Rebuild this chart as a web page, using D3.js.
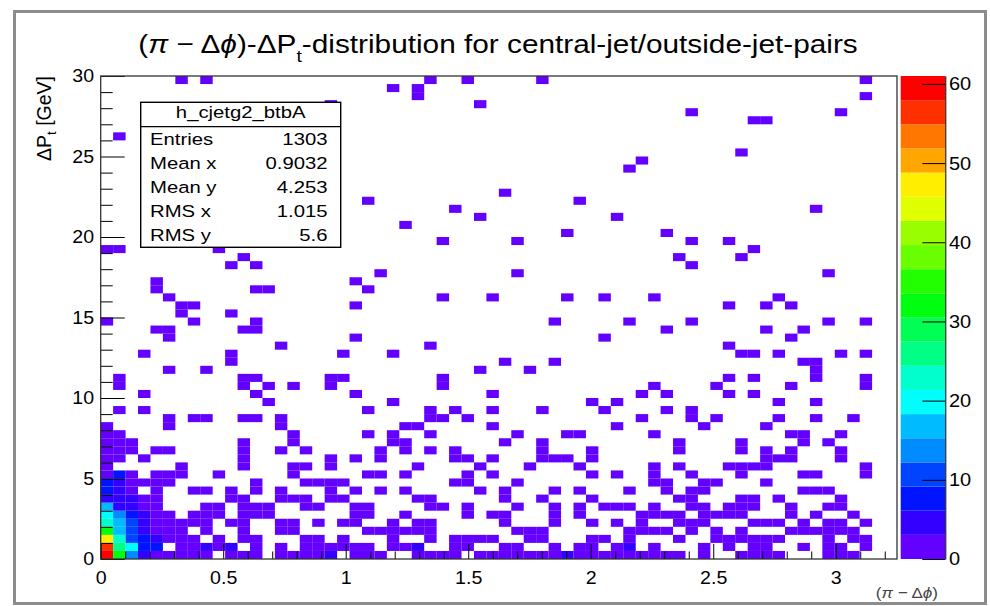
<!DOCTYPE html>
<html>
<head>
<meta charset="utf-8">
<title>(π − Δϕ)-ΔPt-distribution</title>
<script src="https://cdn.jsdelivr.net/npm/d3@7"></script>
<style>
  body { margin: 0; background: #fff; }
  svg { display: block; }
  text { font-family: "Liberation Sans", Arial, Helvetica, sans-serif; fill: #000; }
</style>
</head>
<body>
<svg id="chart" width="990" height="606"></svg>
<script>
// h_cjetg2_btbA : 64 bins in (pi - dphi) over [0, 3.25], 60 bins in dPt over [0, 30] GeV
const xRange = [0, 3.25], nBinsX = 64;
const yRange = [0, 30], nBinsY = 60;

// x bins with entries, one list per 0.5 GeV bin of dPt, bottom up
const filledBins = [
  [0,1,2,3,4,5,6,7,8,10,11,12,14,15,16,17,18,20,21,22,25,26,27,28,30,31,32,33,34,35,36,37,38,39,40,41,42,43,44,45,46,48,51,52,53,54,58,59,60],
  [0,1,2,3,4,6,7,8,9,10,12,14,16,17,18,19,20,21,23,24,25,28,29,32,33,36,38,39,41,42,44,48,50,52,53,56,58,59,61],
  [0,1,2,3,4,5,6,7,9,11,12,16,17,19,23,26,28,29,30,31,34,35,39,40,42,46,49,50,51,52,53,54,58,60,61],
  [0,1,2,3,4,5,6,8,11,14,15,21,22,23,24,25,26,33,34,35,42,43,44,45,47,49,51,55,56,57,58,59,60],
  [0,1,2,3,4,5,6,7,8,10,11,14,15,17,19,20,23,25,26,32,36,39,41,43,46,47,48,52,53,54,56,58,59,61],
  [0,1,2,3,4,5,7,8,9,11,12,13,20,21,24,29,31,32,36,38,43,44,45,46,48,49,50,51,55,57,60],
  [0,1,2,3,4,8,9,11,12,13,16,17,20,21,26,27,29,33,36,38,40,41,42,44,47,48,50,51,52,55,58,59],
  [0,1,2,3,4,10,11,14,15,16,18,19,25,26,32,35,39,46,47,51,52,54,59],
  [0,1,2,4,7,8,10,12,14,18,20,22,24,30,32,36,38,42,45,47,48,56,57,58],
  [0,1,2,3,4,5,12,16,17,18,19,28,29,33,44,45,48,49,53],
  [0,1,2,4,5,6,9,15,21,22,24,29,31,39,41,44,47,51,56,57,61],
  [0,6,11,15,16,18,25,30,34,38,44,46,50,51,52,53,61],
  [0,1,3,11,18,20,22,28,29,31,35,36,37,39,53,54,55,59],
  [0,1,2,4,5,11,14,16,22,24,26,28,35,39,46,51,53,55,59],
  [0,1,2,11,15,23,24,32,35,46,51,56,58],
  [0,1,15,21,23,26,33,37,38,44,55,56,59],
  [0,5,14,24,25,31,41,48,53],
  [5,7,8,11,12,14,26,27,29,43,47,49,54,57,60],
  [1,3,21,26,28,31,35,40,45,47],
  [13,23,39,41,54,57],
  [3,12,20,31,43,45,50,52],
  [1,11,13,15,18,27,44,49,55,61],
  [1,11,12,18,19,27,50,52,57,61],
  [5,8,30,34,57],
  [10,32,36,56,57],
  [3,10,19,23,51,52,54,59,61],
  [14,26,50],
  [5,20,40,55],
  [4,5,11,12,45,53,56],
  [0,7,12,36,42,47,58,61],
  [6,10],
  [6,7,20,50,53,55],
  [5,27,31,37,40,44,54],
  [4,12,13,21],
  [4,20],
  [22,33,58],
  [10,12,47],
  [11,46,51],
  [0,1,9,52],
  [27,33,47,50],
  [37,45],
  [24],
  [30,41],
  [28,57],
  [21,38],
  [32],
  [],
  [],
  [42],
  [43],
  [51],
  [],
  [1],
  [],
  [52,53],
  [47,59],
  [18,30],
  [25,61],
  [23,25],
  [6,8,26,29,35,61]
];

// bins holding more than one entry: [xBin, yBin, entries]
const heavyBins = [
  [0,0,61],[1,0,31],[2,0,14],[3,0,4],[18,0,5],[37,0,5],
  [0,1,55],[1,1,26],[2,1,19],[3,1,8],[4,1,7],[8,1,4],[10,1,6],[25,1,5],[42,1,4],
  [0,2,46],[1,2,22],[2,2,11],[3,2,8],[4,2,4],
  [0,3,33],[1,3,16],[2,3,10],[3,3,5],
  [0,4,23],[1,4,16],[2,4,10],[3,4,4],
  [0,5,20],[1,5,13],[2,5,8],[3,5,4],
  [0,6,16],[1,6,5],[2,6,4],
  [0,7,6],[1,7,5],[2,7,4],
  [0,8,8],[1,8,4],
  [0,9,7],[1,9,4],
  [1,10,7]
];

const statNames = ["Entries", "Mean x", "Mean y", "RMS x", "RMS y"];
const statValues = ["1303", "0.9032", "4.253", "1.015", "5.6"];
const xTicks = [0, 0.5, 1, 1.5, 2, 2.5, 3];
const yTicks = [0, 5, 10, 15, 20, 25, 30];
const zTicks = [0, 10, 20, 30, 40, 50, 60];
const zMax = 61, nContours = 20;

const sx = 1.18;     // stats box text is stretched sideways on the original canvas
const sxAxis = 1.06; // axis labels a little less
const svg = d3.select("#chart");

const x = d3.scaleLinear().domain(xRange).range([100.7, 897]);
const y = d3.scaleLinear().domain(yRange).range([559, 76]);
const z = d3.scaleLinear().domain([0, zMax]).range([559, 76]);

// ROOT 5 pretty palette (violet -> red), sampled for 20 contours
const palette = d3.range(nContours).map(k => {
  const p = Math.floor((k + 0.99) * 50 / nContours);
  return d3.hsl(280 - (p + 1) * 5.6, 1, 0.5).formatHex();
});
const color = d3.scaleQuantize().domain([0, zMax]).range(palette);

// canvas border
svg.append("rect").attr("x", 14.5).attr("y", 11.5).attr("width", 971).attr("height", 592)
  .attr("fill", "none").attr("stroke", "#8c8c8c").attr("stroke-width", 3);

// cells
const binW = (xRange[1] - xRange[0]) / nBinsX;
const binH = (yRange[1] - yRange[0]) / nBinsY;
const entries = new Map();
filledBins.forEach((cols, j) => cols.forEach(i => entries.set(i + "," + j, 1)));
heavyBins.forEach(([i, j, n]) => entries.set(i + "," + j, n));
const cells = Array.from(entries, ([key, n]) => {
  const [i, j] = key.split(",").map(Number);
  return {i, j, n};
});

svg.append("g").selectAll("rect")
  .data(cells)
  .join("rect")
  .attr("x", d => x(d.i * binW))
  .attr("y", d => y((d.j + 1) * binH))
  .attr("width", d => x((d.i + 1) * binW) - x(d.i * binW))
  .attr("height", d => y(d.j * binH) - y((d.j + 1) * binH))
  .attr("fill", d => color(d.n));

// axes, ticks pointing into the frame
function styleTexts(g, size, stretch) {
  g.attr("font-family", null).attr("font-size", null);
  g.selectAll("text").attr("font-size", size).attr("transform", `scale(${stretch},1)`);
  g.selectAll("line").attr("stroke", "#000");
}

const xMinor = d3.range(0, 3.26, 0.1).map(v => +v.toFixed(2)).filter(v => !xTicks.includes(v));
const yMinor = d3.range(0, 31, 1).filter(v => !yTicks.includes(v));

svg.append("g").attr("transform", `translate(0,${y(0)})`)
  .call(d3.axisBottom(x).tickValues(xMinor).tickSizeInner(-7.5).tickSizeOuter(0).tickFormat(""))
  .call(g => g.select(".domain").remove())
  .call(g => g.selectAll("line").attr("stroke", "#000"));
svg.append("g").attr("transform", `translate(0,${y(0)})`)
  .call(d3.axisBottom(x).tickValues(xTicks).tickFormat(d3.format("~g"))
    .tickSizeInner(-15).tickSizeOuter(0).tickPadding(12))
  .call(g => g.select(".domain").remove())
  .call(g => styleTexts(g, 18.5, sxAxis));

svg.append("g").attr("transform", `translate(${x(0)},0)`)
  .call(d3.axisLeft(y).tickValues(yMinor).tickSizeInner(-12).tickSizeOuter(0).tickFormat(""))
  .call(g => g.select(".domain").remove())
  .call(g => g.selectAll("line").attr("stroke", "#000"));
svg.append("g").attr("transform", `translate(${x(0)},0)`)
  .call(d3.axisLeft(y).tickValues(yTicks).tickSizeInner(-24).tickSizeOuter(0).tickPadding(6.3))
  .call(g => g.select(".domain").remove())
  .call(g => styleTexts(g, 18.5, sxAxis));

// frame
svg.append("rect").attr("x", x(xRange[0])).attr("y", y(yRange[1]))
  .attr("width", x(xRange[1]) - x(xRange[0])).attr("height", y(yRange[0]) - y(yRange[1]))
  .attr("fill", "none").attr("stroke", "#333").attr("stroke-width", 1.3);

// palette
const palX = 900.7, palW = 44.6;
svg.append("g").selectAll("rect")
  .data(palette)
  .join("rect")
  .attr("x", palX)
  .attr("y", (c, k) => z((k + 1) * zMax / nContours))
  .attr("width", palW)
  .attr("height", (c, k) => z(k * zMax / nContours) - z((k + 1) * zMax / nContours))
  .attr("fill", c => c);
svg.append("g").attr("transform", `translate(${palX + palW},0)`)
  .call(d3.axisRight(z).tickValues(zTicks).tickSizeInner(-23).tickSizeOuter(0).tickPadding(3.4))
  .call(g => g.select(".domain").attr("stroke", "#000"))
  .call(g => styleTexts(g, 18.5, 1.08));

// axis titles
const yTitle = svg.append("text")
  .attr("transform", "translate(51,76) rotate(-90)")
  .attr("text-anchor", "end").attr("font-size", 19.5);
yTitle.append("tspan").text("ΔP");
yTitle.append("tspan").attr("font-size", 13).attr("dy", 5).text("t");
yTitle.append("tspan").attr("dy", -5).text(" [GeV]");

const xTitle = svg.append("text")
  .attr("transform", `translate(938,598) scale(1.1,1)`)
  .attr("text-anchor", "end").attr("font-size", 15.5).style("fill", "#444");
xTitle.append("tspan").text("(");
xTitle.append("tspan").attr("font-style", "italic").text("π");
xTitle.append("tspan").text(" − Δ");
xTitle.append("tspan").attr("font-style", "italic").text("ϕ");
xTitle.append("tspan").text(")");

// title, fitted to the width it has on the original canvas
const title = svg.append("text").attr("text-anchor", "middle").attr("font-size", 26);
title.append("tspan").text("(");
title.append("tspan").attr("font-style", "italic").text("π");
title.append("tspan").text(" − Δ");
title.append("tspan").attr("font-style", "italic").text("ϕ");
title.append("tspan").text(")-ΔP");
title.append("tspan").attr("font-size", 17).attr("dy", 9).text("t");
title.append("tspan").attr("dy", -9).text("-distribution for central-jet/outside-jet-pairs");
const titleW = title.node().getComputedTextLength();
title.attr("transform", `translate(498,53) scale(${720 / titleW},1)`);

// stats box
const box = {x0: 140.7, x1: 340.7, y0: 102.3, y1: 247.3, head: 126.7};
const sb = svg.append("g");
sb.append("rect").attr("x", box.x0).attr("y", box.y0)
  .attr("width", box.x1 - box.x0).attr("height", box.y1 - box.y0)
  .attr("fill", "#fff").attr("stroke", "#000").attr("stroke-width", 1.4);
sb.append("line").attr("x1", box.x0).attr("x2", box.x1).attr("y1", box.head).attr("y2", box.head)
  .attr("stroke", "#000").attr("stroke-width", 1.2);
sb.append("text").attr("transform", `translate(${(box.x0 + box.x1) / 2},118) scale(${sx},1)`)
  .attr("text-anchor", "middle").attr("font-size", 17.2).text("h_cjetg2_btbA");
const rowH = (box.y1 - box.head) / statNames.length;
statNames.forEach((name, k) => {
  const by = box.head + rowH * (k + 0.5) + 6.2;
  sb.append("text").attr("transform", `translate(150,${by}) scale(${sx},1)`)
    .attr("font-size", 17.2).text(name);
  sb.append("text").attr("transform", `translate(327.5,${by}) scale(${sx},1)`)
    .attr("text-anchor", "end").attr("font-size", 17.2).text(statValues[k]);
});
</script>
</body>
</html>
